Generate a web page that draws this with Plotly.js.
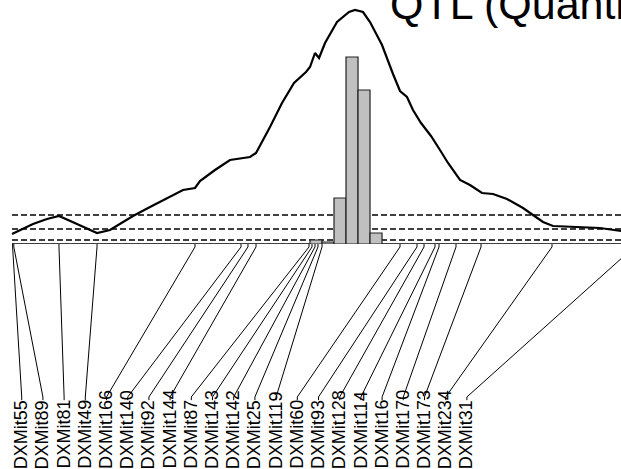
<!DOCTYPE html>
<html>
<head>
<meta charset="utf-8">
<script src="https://cdn.plot.ly/plotly-3.0.1.min.js"></script>
<style>
html,body{margin:0;padding:0;background:#fff;}
#chart{width:621px;height:469px;}
</style>
</head>
<body>
<div id="chart"></div>
<script>
// ---- data (position in cM, LOD score) ----
const lodPos = [0, 1.33, 3.5, 5.83, 7.83, 10.83, 14.17, 16.33, 17.17, 20.17, 23.0, 25.83, 28.5, 30.5,
  31.33, 33.83, 36.33, 39.67, 40.67, 43.0, 45.0, 47.0, 49.0, 49.67, 50.5, 51.17, 52.17, 54.17,
  56.17, 57.17, 58.5, 59.67, 61.67, 63.5, 64.67, 65.83, 66.83, 68.17, 69.83, 71.33, 72.67, 74.67,
  76.33, 78.33, 80.17, 82.5, 85.17, 86.83, 88.5, 90.17, 96.33, 98.0, 101.5, 103.0];
const lodVal = [1.0, 1.4, 2.0, 2.5, 2.8, 2.0, 1.1, 1.4, 1.7, 2.8, 3.7, 4.6, 5.4, 5.6,
  6.3, 7.4, 8.4, 8.7, 9.1, 11.7, 14.1, 16.1, 17.2, 17.7, 19.1, 18.6, 20.1, 22.2,
  23.2, 23.4, 23.2, 22.2, 19.9, 17.0, 15.3, 14.7, 13.4, 12.1, 10.8, 9.4, 8.1, 6.4,
  5.9, 5.1, 5.0, 4.5, 3.6, 2.9, 2.2, 1.8, 1.7, 1.6, 1.3, 1.2];

// bootstrap histogram
const binCenters = [50.67, 52.67, 54.67, 56.67, 58.67, 60.67];
const binCounts = [4, 2, 46, 187, 154, 11];

// threshold LOD levels (dashed lines)
const thresholds = [0.4, 1.5, 2.9];

// markers
const markerNames = ['DXMit55','DXMit89','DXMit81','DXMit49','DXMit166','DXMit140','DXMit92',
  'DXMit144','DXMit87','DXMit143','DXMit142','DXMit25','DXMit119','DXMit60','DXMit93',
  'DXMit128','DXMit114','DXMit16','DXMit170','DXMit173','DXMit234','DXMit31'];
const markerPos = [0.1, 0.3, 7.83, 14.17, 30.5, 38.17, 39.33, 40.67, 49.5, 50.0, 50.5, 51.0,
  51.67, 64.67, 67.5, 68.67, 70.5, 71.17, 74.0, 78.17, 90.0, 103.7];

const xStart = 0, xEnd = 101.5;

// ---- layout helpers (positions only) ----
const labelX0 = 1.62, labelDx = 3.533;   // cM spacing of label columns
const yStub = -0.012, yLineEnd = -0.627, yLabelTop = -0.64, yLabelBottom = -0.922;

const shapes = [];
thresholds.forEach(t => shapes.push({
  type: 'line', xref: 'x', yref: 'y', x0: xStart, x1: xEnd, y0: t, y1: t,
  line: {color: '#000', width: 1.4, dash: '6px,3px'}, layer: 'below'
}));
shapes.push({type: 'line', xref: 'x', yref: 'y', x0: xStart, x1: xEnd, y0: 0, y1: 0,
  line: {color: '#000', width: 1.4}, layer: 'below'});

const annotations = [];
markerNames.forEach((name, i) => {
  const lx = labelX0 + labelDx * i;
  const mx = markerPos[i];
  shapes.push({
    type: 'path', xref: 'x', yref: 'paper',
    path: `M ${mx},0 L ${mx},${yStub} L ${lx},${yLineEnd} L ${lx},${yLabelTop}`,
    line: {color: '#000', width: 1}
  });
  annotations.push({
    text: name, xref: 'x', yref: 'paper', x: lx, y: yLabelBottom,
    xanchor: 'center', yanchor: 'bottom', textangle: -90, showarrow: false,
    borderpad: 0, borderwidth: 0,
    font: {family: 'Liberation Sans, Arial, sans-serif', size: 18, color: '#000'}
  });
});

const traces = [
  {
    type: 'bar', x: binCenters, y: binCounts, yaxis: 'y2', width: 2,
    marker: {color: '#c0c0c0', line: {color: '#222', width: 1.2}},
    hoverinfo: 'skip', showlegend: false
  },
  {
    type: 'scatter', mode: 'lines', x: lodPos, y: lodVal,
    line: {color: '#000', width: 2.2, shape: 'linear'},
    hoverinfo: 'skip', showlegend: false
  }
];

const layout = {
  width: 621, height: 469,
  margin: {l: 0, r: 0, t: 0, b: 225, pad: 0},
  paper_bgcolor: '#fff', plot_bgcolor: '#fff',
  showlegend: false,
  title: {
    text: 'QTL (Quantitative Trait Loci)',
    xref: 'container', yref: 'container',
    x: 390/621, xanchor: 'left', y: 1 - 19/469, yanchor: 'bottom',
    font: {family: 'Liberation Sans, Arial, sans-serif', size: 43, color: '#000'}
  },
  xaxis: {range: [-2, 101.5], visible: false, showgrid: false, zeroline: false},
  yaxis: {range: [0, 24.4], visible: false, showgrid: false, zeroline: false},
  yaxis2: {range: [0, 244], overlaying: 'y', visible: false, showgrid: false, zeroline: false},
  bargap: 0,
  shapes: shapes,
  annotations: annotations
};

Plotly.newPlot('chart', traces, layout, {displayModeBar: false, staticPlot: true});
</script>
</body>
</html>
